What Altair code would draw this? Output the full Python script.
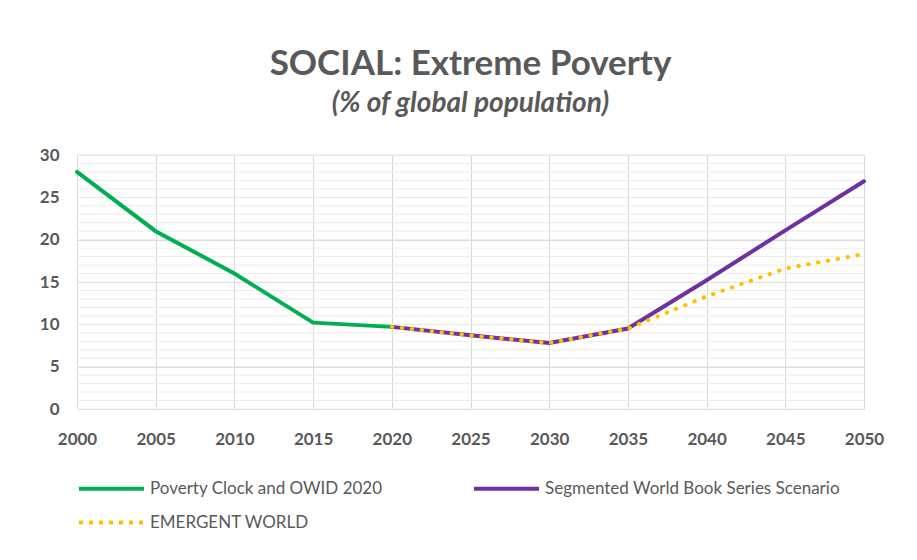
import altair as alt
import pandas as pd

years_hist = [2000, 2005, 2010, 2015, 2020]
poverty_hist = [28.0, 21.0, 16.0, 10.2, 9.7]

years_seg = [2020, 2025, 2030, 2035, 2040, 2045, 2050]
poverty_seg = [9.7, 8.7, 7.8, 9.5, 15.2, 21.1, 26.9]

years_emg = [2020, 2025, 2030, 2035, 2040, 2045, 2050]
poverty_emg = [9.7, 8.7, 7.8, 9.5, 13.3, 16.6, 18.3]

series_names = ["Poverty Clock and OWID 2020",
                "Segmented World Book Series Scenario",
                "EMERGENT WORLD"]
series_colors = ["#00b050", "#7030a0", "#ffc000"]

minor_ticks = list(range(0, 31))
major_y = [0, 5, 10, 15, 20, 25, 30]
major_x = [2000, 2005, 2010, 2015, 2020, 2025, 2030, 2035, 2040, 2045, 2050]

rows = []
for k, (name, ys, vs) in enumerate(zip(series_names,
                                       [years_hist, years_seg, years_emg],
                                       [poverty_hist, poverty_seg, poverty_emg])):
    for y, v in zip(ys, vs):
        rows.append({"series": name, "year": y, "value": v, "order": k})
df = pd.DataFrame(rows)
df_solid = df[df["series"] != series_names[2]]
df_dot = df[df["series"] == series_names[2]]

FONT = "Lato"
GREY = "#595959"

xscale = alt.Scale(domain=[2000, 2050], nice=False)
yscale = alt.Scale(domain=[0, 30], nice=False)

yaxis = alt.Axis(values=major_y, title=None,
                 labelFont=FONT, labelFontSize=17, labelFontWeight="bold",
                 labelColor=GREY, labelPadding=18, ticks=False, domain=False,
                 grid=True, gridColor="#d9d9d9")
xaxis = alt.Axis(values=major_x, format="d", title=None, labelFlush=False,
                 labelFont=FONT, labelFontSize=17, labelFontWeight="bold",
                 labelColor=GREY, labelPadding=22, ticks=False, domain=False,
                 grid=True, gridColor="#d9d9d9")

minor = alt.Chart(pd.DataFrame({"v": minor_ticks})).mark_rule(
    color="#ececec", strokeWidth=1
).encode(y=alt.Y("v:Q", scale=yscale, axis=yaxis))

common_legend = dict(title=None, orient="none", direction="horizontal",
                     symbolType="stroke", symbolSize=4225, symbolStrokeWidth=4,
                     labelFont=FONT, labelFontSize=17, labelColor=GREY,
                     labelOffset=4, labelLimit=400)

solid = alt.Chart(df_solid).mark_line(strokeWidth=4, strokeCap="round").encode(
    x=alt.X("year:Q", scale=xscale, axis=xaxis),
    y=alt.Y("value:Q", scale=yscale, axis=yaxis),
    color=alt.Color("series:N",
                    scale=alt.Scale(domain=series_names[:2], range=series_colors[:2]),
                    legend=alt.Legend(columns=2, columnPadding=83,
                                      legendX=0, legendY=299, **common_legend)),
    order=alt.Order("order:Q"),
)

dotted = alt.Chart(df_dot).mark_line(strokeWidth=4, strokeCap="round",
                                     strokeDash=[0.5, 9.5]).encode(
    x=alt.X("year:Q", scale=xscale, axis=xaxis),
    y=alt.Y("value:Q", scale=yscale, axis=yaxis),
    color=alt.Color("series:N",
                    scale=alt.Scale(domain=series_names[2:], range=series_colors[2:]),
                    legend=alt.Legend(columns=1, legendX=0, legendY=333,
                                      symbolDash=[4, 6], **common_legend)),
    order=alt.Order("order:Q"),
)

chart = alt.layer(minor, solid, dotted).resolve_scale(color="independent").properties(
    width=787, height=254,
    padding={"left": 69, "top": 147, "right": 45, "bottom": 143},
    autosize=alt.AutoSizeParams(type="none"),
    background="white",
    title=alt.TitleParams(
        text="SOCIAL: Extreme Poverty",
        subtitle="(% of global population)",
        font=FONT, fontSize=35, fontWeight="bold", color=GREY,
        subtitleFont=FONT, subtitleFontSize=28, subtitleFontWeight="bold",
        subtitleFontStyle="italic", subtitleColor=GREY,
        anchor="middle", offset=28, subtitlePadding=8,
    ),
).configure_view(stroke=None)

chart.save("out.html", embed_options={"renderer": "svg", "actions": False})
